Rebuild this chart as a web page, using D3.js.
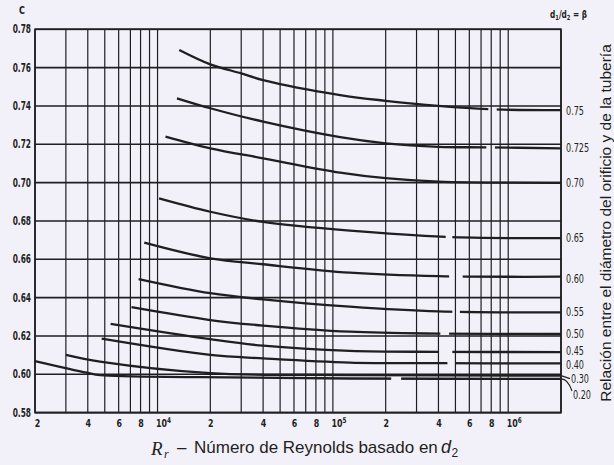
<!DOCTYPE html>
<html><head><meta charset="utf-8">
<script src="https://cdn.jsdelivr.net/npm/d3@7"></script>
<style>html,body{margin:0;padding:0;background:#f2f1f9;} svg{display:block;}</style>
</head><body><svg id="c" width="614" height="465"></svg>
<script>
// ---- data ----
const betaLabels = ["0.75","0.725","0.70","0.65","0.60","0.55","0.50","0.45","0.40","0.30","0.20"];
const re075 = [13300, 20000, 30000, 40000, 110000, 200000, 400000, 765000, 2000000];
const c075  = [0.7692, 0.7617, 0.7570, 0.7535, 0.7457, 0.7427, 0.7400, 0.7383, 0.7378];
const re0725 = [12900, 20000, 40000, 110000, 200000, 400000, 745000, 2000000];
const c0725  = [0.7440, 0.7388, 0.7318, 0.7237, 0.7205, 0.7187, 0.7184, 0.7179];
const re070 = [11100, 20000, 40000, 110000, 200000, 400000, 2000000];
const c070  = [0.7240, 0.7179, 0.7127, 0.7052, 0.7023, 0.7005, 0.6999];
const re065 = [10200, 20000, 40000, 125000, 440000, 2000000];
const c065  = [0.6918, 0.6848, 0.6795, 0.6749, 0.6717, 0.6710];
const re060 = [8400, 20000, 40000, 125000, 400000, 2000000];
const c060  = [0.6687, 0.6605, 0.6574, 0.6530, 0.6512, 0.6509];
const re055 = [7800, 20000, 40000, 125000, 400000, 2000000];
const c055  = [0.6497, 0.6423, 0.6391, 0.6353, 0.6328, 0.6323];
const re050 = [7100, 20000, 40000, 125000, 400000, 2000000];
const c050  = [0.6350, 0.6283, 0.6254, 0.6222, 0.6212, 0.6210];
const re045 = [5400, 20000, 40000, 125000, 400000, 2000000];
const c045  = [0.6263, 0.6183, 0.6149, 0.6122, 0.6117, 0.6116];
const re040 = [4800, 20000, 40000, 125000, 400000, 2000000];
const c040  = [0.6186, 0.6101, 0.6083, 0.6061, 0.6058, 0.6057];
const re030 = [3000, 4700, 20000, 125000, 2000000];
const c030  = [0.6101, 0.6066, 0.6006, 0.5996, 0.5993];
const re020 = [2000, 3950, 4700, 17500, 125000, 2000000];
const c020  = [0.6069, 0.6008, 0.5995, 0.5985, 0.5978, 0.5976];
// breaks in the printed curves [from, to] in Reynolds number
const gapFrom = [770000, 750000, null, 440000, 460000, 480000, 410000, 400000, 450000, null, 215000];
const gapTo   = [860000, 840000, null, 480000, 550000, 530000, 460000, 480000, 500000, null, 245000];

const yTickValues = [0.58,0.60,0.62,0.64,0.66,0.68,0.70,0.72,0.74,0.76,0.78];
const xLabelValues = [2000,4000,6000,8000,10000,20000,40000,60000,80000,100000,200000,400000,600000,800000,1000000];
const xLabelBase = ["2","4","6","8","10","2","4","6","8","10","2","4","6","8","10"];
const xLabelExp  = ["","","","","4","","","","","5","","","","","6"];

const reArr = [re075,re0725,re070,re065,re060,re055,re050,re045,re040,re030,re020];
const cArr  = [c075,c0725,c070,c065,c060,c055,c050,c045,c040,c030,c020];
const curves = betaLabels.map((b,i)=>({beta:b, pts:reArr[i].map((r,j)=>[r,cArr[i][j]]), g0:gapFrom[i], g1:gapTo[i]}));

// ---- drawing ----
const W=614,H=465, ink="#1f1f22";
const svg=d3.select("#c");
svg.append("rect").attr("width",W).attr("height",H).attr("fill","#f2f1f9");
const x=d3.scaleLog().domain([2000,2000000]).range([35,561]);
const y=d3.scaleLinear().domain([0.58,0.78]).range([412.6,29.3]);
const condensed="'Liberation Sans Narrow','DejaVu Sans Condensed','Liberation Sans',Arial,sans-serif";

// grid
const grid=svg.append("g");
grid.selectAll("line.v").data(x.ticks()).join("line")
  .attr("x1",d=>x(d)).attr("x2",d=>x(d)).attr("y1",y(0.78)).attr("y2",y(0.58))
  .attr("stroke",ink).attr("stroke-width",1.2);
grid.selectAll("line.h").data(yTickValues).join("line")
  .attr("x1",x(2000)).attr("x2",x(2000000)).attr("y1",d=>y(d)).attr("y2",d=>y(d))
  .attr("stroke",ink).attr("stroke-width",1.6);
svg.append("rect").attr("x",x(2000)).attr("y",y(0.78)).attr("width",x(2000000)-x(2000)).attr("height",y(0.58)-y(0.78))
  .attr("fill","none").attr("stroke",ink).attr("stroke-width",1.7);

// masks for breaks
const defs=svg.append("defs");
curves.forEach((c,i)=>{
  if(c.g0==null) return;
  const m=defs.append("mask").attr("id","m"+i).attr("maskUnits","userSpaceOnUse")
    .attr("x",0).attr("y",0).attr("width",W).attr("height",H);
  m.append("rect").attr("width",W).attr("height",H).attr("fill","white");
  m.append("rect").attr("x",x(c.g0)).attr("width",x(c.g1)-x(c.g0)).attr("y",0).attr("height",H).attr("fill","black");
});

const line=d3.line().x(d=>x(d[0])).y(d=>y(d[1])).curve(d3.curveCatmullRom.alpha(0.5));
svg.append("g").selectAll("path").data(curves).join("path")
  .attr("d",d=>line(d.pts)).attr("fill","none").attr("stroke",ink).attr("stroke-width",2.3)
  .attr("mask",(d,i)=>d.g0==null?null:`url(#m${i})`);

// right labels
const dyLab={ "0.75":1.5, "0.60":3, "0.45":-0.8, "0.40":2.2 };
curves.forEach((c,i)=>{
  const last=c.pts[c.pts.length-1];
  let ly=y(last[1])+(dyLab[c.beta]||0.5), lx=566;
  if(c.beta==="0.30"){
    svg.append("path").attr("d",`M561,${y(last[1])} L570,${y(last[1])+3}`).attr("stroke",ink).attr("fill","none").attr("stroke-width",1.1);
    ly=379.5; lx=571;
  }
  if(c.beta==="0.20"){
    svg.append("path").attr("d",`M561,${y(last[1])} Q568,${y(last[1])} 572,391`).attr("stroke",ink).attr("fill","none").attr("stroke-width",1.1);
    ly=395.5; lx=573;
  }
  svg.append("text").attr("transform",`translate(${lx},${ly}) scale(0.78,1)`)
    .attr("dominant-baseline","middle").attr("font-family",condensed).attr("font-size",11.5)
    .attr("fill",ink).text(c.beta);
});

// y labels via axis
const yAxis=svg.append("g").attr("transform","translate(33,0)")
  .call(d3.axisLeft(y).tickValues(yTickValues).tickSize(0).tickFormat(d3.format(".2f")));
yAxis.select(".domain").remove();
yAxis.selectAll("text").attr("x",0).attr("dy",null).attr("dominant-baseline","middle")
  .attr("font-family",condensed).attr("font-size",11.5).attr("font-weight","bold").attr("fill",ink)
  .attr("transform","scale(0.72,1)").attr("text-anchor","end");
yAxis.selectAll(".tick").each(function(){
  const t=d3.select(this), tr=t.attr("transform");
  t.attr("transform",tr.replace(/translate\(([^,]+),/,"translate(-2,"));
});
svg.append("text").attr("transform","translate(22,14) scale(0.85,1)").attr("text-anchor","middle")
  .attr("font-family",condensed).attr("font-size",10.5).attr("font-weight","bold").attr("fill",ink).text("C");

// x labels
xLabelValues.forEach((v,i)=>{
  const isPow=xLabelExp[i]!=="";
  const t=svg.append("text").attr("transform",`translate(${x(v)+(isPow?-1.5:(i===0?2.5:0.5))},427) scale(0.8,1)`)
    .attr("text-anchor",isPow?"start":"middle").attr("font-family",condensed).attr("font-size",11)
    .attr("font-weight","bold").attr("fill",ink);
  t.append("tspan").text(xLabelBase[i]);
  if(isPow) t.append("tspan").attr("dy",-4).attr("font-size",8).text(xLabelExp[i]);
});

// x title
const tt=svg.append("g").attr("fill",ink);
tt.append("text").attr("x",151).attr("y",455).attr("font-family","'Liberation Serif','DejaVu Serif',serif")
  .attr("font-style","italic").attr("font-size",19).text("R");
tt.append("text").attr("x",164).attr("y",458).attr("font-family","'Liberation Serif','DejaVu Serif',serif")
  .attr("font-style","italic").attr("font-size",12).text("r");
tt.append("text").attr("x",177).attr("y",453).attr("font-family","'Liberation Sans',Arial,sans-serif")
  .attr("font-size",17).text("–");
tt.append("text").attr("x",194).attr("y",453).attr("font-family","'Liberation Sans',Arial,sans-serif")
  .attr("font-size",17).text("Número de Reynolds basado en");
tt.append("text").attr("x",441).attr("y",453).attr("font-family","'Liberation Sans',Arial,sans-serif")
  .attr("font-style","italic").attr("font-size",18).text("d");
tt.append("text").attr("x",451.5).attr("y",457).attr("font-family","'Liberation Sans',Arial,sans-serif")
  .attr("font-size",12).text("2");

// right vertical title
svg.append("text").attr("transform","translate(611,223) rotate(-90)").attr("text-anchor","middle")
  .attr("font-family","'Liberation Sans',Arial,sans-serif").attr("font-size",15.5).attr("fill",ink)
  .text("Relación entre el diámetro del orificio y de la tubería");

// beta header
const bh=svg.append("text").attr("transform","translate(550,18) scale(0.82,1)")
  .attr("font-family",condensed).attr("font-size",10).attr("font-weight","bold").attr("fill",ink);
bh.append("tspan").text("d");
bh.append("tspan").attr("dy",2).attr("font-size",7).text("1");
bh.append("tspan").attr("dy",-2).text("/d");
bh.append("tspan").attr("dy",2).attr("font-size",7).text("2");
bh.append("tspan").attr("dy",-2).text(" = β");
</script></body></html>
